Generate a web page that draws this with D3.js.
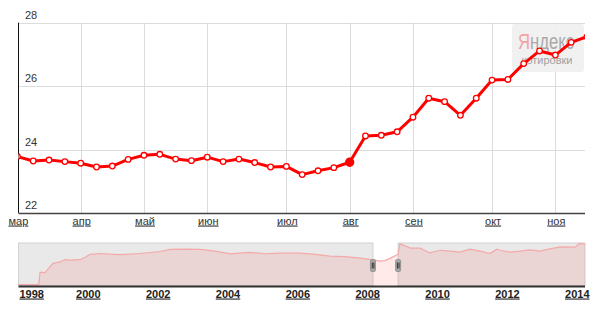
<!DOCTYPE html>
<html>
<head>
<meta charset="utf-8">
<script src="https://cdn.jsdelivr.net/npm/d3@7"></script>
<style>
  body { margin: 0; background: #fff; }
  text { font-family: "Liberation Sans", Arial, sans-serif; }
</style>
</head>
<body>
<svg width="600" height="314"></svg>
<script>
// weekly rate values, mar..nov
var rates = [23.78, 23.64, 23.67, 23.62, 23.57, 23.45, 23.48, 23.69, 23.82, 23.85,
             23.70, 23.65, 23.76, 23.62, 23.70, 23.59, 23.45, 23.47, 23.21, 23.33,
             23.43, 23.60, 24.43, 24.45, 24.56, 25.02, 25.62, 25.51, 25.08, 25.62,
             26.19, 26.21, 26.71, 27.11, 26.98, 27.38, 27.56];
var months = ["мар", "апр", "май", "июн", "июл", "авг", "сен", "окт", "ноя"];
var monthIdx = [0, 4, 8, 12, 17, 21, 25, 30, 34];
var yTicks = [22, 24, 26, 28];
var selectedIdx = 21;

// navigator (whole history)
var navYears = [1998.0, 1998.58, 1998.62, 1998.76, 1998.99, 1999.19, 1999.33, 1999.48, 1999.76, 1999.91,
                2000.05, 2000.34, 2000.62, 2000.91, 2001.48, 2002.05, 2002.34, 2002.77, 2003.2, 2003.63,
                2004.06, 2004.63, 2005.06, 2005.49, 2006.06, 2006.49, 2006.92, 2007.35, 2007.78, 2008.15,
                2008.35, 2008.49, 2008.64, 2008.78, 2008.87, 2008.92, 2009.07, 2009.21, 2009.5, 2009.78,
                2010.07, 2010.36, 2010.64, 2010.93, 2011.22, 2011.5, 2011.7, 2011.79, 2012.07, 2012.36,
                2012.64, 2012.93, 2013.22, 2013.5, 2013.93, 2014.07, 2014.22];
var navValues = [5.6, 5.6, 15.0, 14.6, 21.5, 22.5, 24.3, 23.8, 24.2, 26.0,
                 28.2, 28.8, 28.3, 28.0, 28.8, 30.3, 31.8, 32.0, 31.8, 30.6,
                 28.5, 29.7, 28.6, 29.0, 29.0, 28.2, 26.8, 26.4, 25.3, 24.0,
                 23.2, 23.5, 25.2, 27.0, 28.3, 36.0, 34.5, 32.8, 32.8, 29.2,
                 31.2, 30.5, 29.8, 32.0, 30.5, 28.8, 32.0, 31.2, 29.8, 30.5,
                 31.5, 30.5, 32.2, 33.7, 33.5, 36.3, 35.8];
var navTickYears = [1998, 2000, 2002, 2004, 2006, 2008, 2010, 2012, 2014];
var selection = [2008.15, 2008.87];

var svg = d3.select("svg");
var pLeft = 18.5, pRight = 585, pTop = 22.7, pBottom = 213;

var x = d3.scaleLinear().domain([0, 36]).range([17.4, 587]);
var y = d3.scaleLinear().domain([22, 28]).range([pBottom, pTop]);

// clip for main plot
svg.append("defs").append("clipPath").attr("id", "plotclip")
  .append("rect").attr("x", pLeft).attr("y", 0).attr("width", pRight - pLeft).attr("height", pBottom + 5);

// grid
var grid = svg.append("g");
grid.selectAll(".hg").data(yTicks.slice(1)).enter().append("line")
  .attr("x1", pLeft).attr("x2", pRight)
  .attr("y1", function (d) { return Math.round(y(d)) + 0.5; })
  .attr("y2", function (d) { return Math.round(y(d)) + 0.5; })
  .attr("stroke", "#dcdcdc").attr("stroke-width", 1);
grid.selectAll(".vg").data(monthIdx.slice(1)).enter().append("line")
  .attr("x1", function (d) { return Math.round(x(d)) + 0.5; })
  .attr("x2", function (d) { return Math.round(x(d)) + 0.5; })
  .attr("y1", pTop).attr("y2", pBottom)
  .attr("stroke", "#dcdcdc").attr("stroke-width", 1);

// y labels
svg.selectAll(".yl").data(yTicks).enter().append("text")
  .attr("x", 25).attr("y", function (d) { return y(d) - 4; })
  .attr("font-size", 11).attr("fill", "#333")
  .text(function (d) { return d; });

// watermark
var wm = svg.append("g");
wm.append("rect").attr("x", 512).attr("y", 24).attr("width", 72).attr("height", 48)
  .attr("rx", 3).attr("fill", "#efefef").attr("opacity", 0.9);
var wt = wm.append("text").attr("x", 518).attr("y", 49).attr("font-size", 22)
  .attr("textLength", 56).attr("lengthAdjust", "spacingAndGlyphs");
wt.append("tspan").attr("fill", "#f3a3a3").text("Я");
wt.append("tspan").attr("fill", "#a9a9a9").text("ндекс");
wm.append("text").attr("x", 521.5).attr("y", 63.5).attr("font-size", 11.5)
  .attr("textLength", 51).attr("lengthAdjust", "spacingAndGlyphs")
  .attr("fill", "#a0a0a0").text("котировки");

// axes lines
svg.append("line").attr("x1", pLeft).attr("x2", pLeft).attr("y1", pTop).attr("y2", pBottom)
  .attr("stroke", "#111").attr("stroke-width", 1);
svg.append("line").attr("x1", pLeft).attr("x2", pRight).attr("y1", pBottom + 0.5).attr("y2", pBottom + 0.5)
  .attr("stroke", "#444").attr("stroke-width", 1.6);

// x labels
svg.selectAll(".xl").data(monthIdx).enter().append("text")
  .attr("x", function (d) { return x(d) + 1; })
  .attr("y", 224.5).attr("text-anchor", "middle")
  .attr("font-size", 11).attr("fill", "#333")
  .attr("text-decoration", "underline")
  .text(function (d, i) { return months[i]; });

// rate line
var plot = svg.append("g").attr("clip-path", "url(#plotclip)");
plot.append("path").datum(rates)
  .attr("d", d3.line().x(function (d, i) { return x(i); }).y(function (d) { return y(d); }))
  .attr("fill", "none").attr("stroke", "#ff0000").attr("stroke-width", 3)
  .attr("stroke-linejoin", "round");
plot.selectAll(".pt").data(rates).enter().append("circle")
  .attr("cx", function (d, i) { return x(i); })
  .attr("cy", function (d) { return y(d); })
  .attr("r", function (d, i) { return i === selectedIdx ? 4 : 2.8; })
  .attr("fill", function (d, i) { return i === selectedIdx ? "#ff0000" : "#fff"; })
  .attr("stroke", "#ff0000").attr("stroke-width", 1.3);

// navigator
var nTop = 243, nBottom = 285.5;
var nx = d3.scaleLinear().domain([2000, 2014]).range([88.3, 577.3]);
var ny = d3.scaleLinear().domain([5, 36.6]).range([nBottom, nTop]);
var nav = svg.append("g");
var s0 = nx(selection[0]), s1 = nx(selection[1]);

nav.append("rect").attr("x", pLeft).attr("y", nTop).attr("width", s0 - pLeft).attr("height", nBottom - nTop)
  .attr("fill", "#e9e9e9").attr("stroke", "#d2d2d2").attr("stroke-width", 1);
nav.append("rect").attr("x", s1).attr("y", nTop).attr("width", pRight - s1).attr("height", nBottom - nTop)
  .attr("fill", "#e9e9e9").attr("stroke", "#d2d2d2").attr("stroke-width", 1);

nav.append("path").datum(navValues)
  .attr("d", d3.area()
    .x(function (d, i) { return nx(navYears[i]); })
    .y0(nBottom).y1(function (d) { return ny(d); }))
  .attr("fill", "rgba(255,0,0,0.085)");
nav.append("path").datum(navValues)
  .attr("d", d3.line()
    .x(function (d, i) { return nx(navYears[i]); })
    .y(function (d) { return ny(d); }))
  .attr("fill", "none").attr("stroke", "#f4a9a9").attr("stroke-width", 1.2);

nav.append("line").attr("x1", pLeft).attr("x2", pRight).attr("y1", nBottom + 1).attr("y2", nBottom + 1)
  .attr("stroke", "#333").attr("stroke-width", 2);

// selection handles
nav.selectAll(".hd").data([s0, s1]).enter().append("g")
  .attr("transform", function (d) { return "translate(" + (d - 2.5) + ",259.5)"; })
  .each(function () {
    var h = d3.select(this);
    h.append("rect").attr("width", 5).attr("height", 12).attr("rx", 1.5)
      .attr("fill", "#a8a8a8").attr("stroke", "#8a8a8a").attr("stroke-width", 0.8);
    h.append("line").attr("x1", 1.8).attr("x2", 1.8).attr("y1", 3).attr("y2", 9)
      .attr("stroke", "#333").attr("stroke-width", 1);
    h.append("line").attr("x1", 3.4).attr("x2", 3.4).attr("y1", 3).attr("y2", 9)
      .attr("stroke", "#333").attr("stroke-width", 1);
  });

// year labels
nav.selectAll(".yr").data(navTickYears).enter().append("text")
  .attr("x", function (d) { return Math.max(nx(d), 31.7); })
  .attr("y", 297.5).attr("text-anchor", "middle")
  .attr("font-size", 11).attr("font-weight", "bold").attr("fill", "#222")
  .attr("text-decoration", "underline")
  .text(function (d) { return d; });
</script>
</body>
</html>
